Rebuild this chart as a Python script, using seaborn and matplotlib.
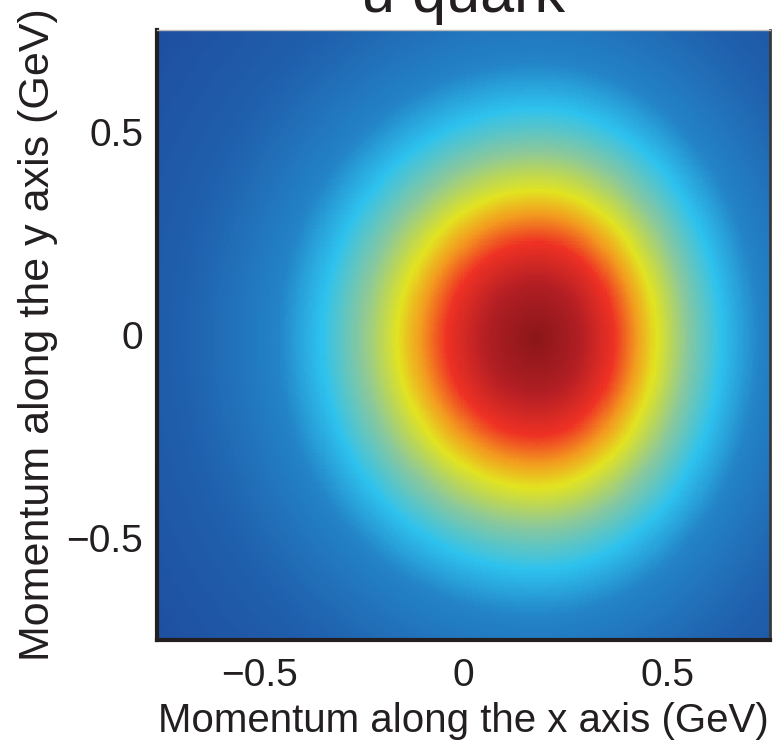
import numpy as np
import pandas as pd
import matplotlib
matplotlib.use("Agg")
import matplotlib.pyplot as plt
from matplotlib.colors import LinearSegmentedColormap
import seaborn as sns

# ---- data ----
title = "u quark"
x_label = "Momentum along the x axis (GeV)"
y_label = "Momentum along the y axis (GeV)"
axis_range = [-0.75, 0.75]
tick_values = [-0.5, 0.0, 0.5]
tick_labels = ["\u22120.5", "0", "0.5"]

# peak position (GeV) and elongation of the distribution (left, right, vertical)
peak_center = [0.18, -0.01]
aspect_left_right_y = [1.10, 0.94, 1.18]
# radial profile (horizontal distance from peak, GeV) -> relative density
profile_radius = [0.0, 0.10, 0.20, 0.26, 0.31, 0.39, 0.48, 0.58, 0.75, 0.95, 1.2]
profile_level = [1.0, 0.92, 0.80, 0.70, 0.60, 0.50, 0.38, 0.28, 0.18, 0.10, 0.0]

# colour stops (level, colour)
cmap_levels = [0.0, 0.15, 0.28, 0.38, 0.5, 0.6, 0.7, 0.8, 0.9, 1.0]
cmap_colors = ["#1E469A", "#1F5DAB", "#2383C6", "#2EC2EE", "#8CC89A",
               "#E2E320", "#F39C1F", "#EE3124", "#B51F24", "#8B1619"]

n_grid = 300

# ---- build grid ----
edges = np.linspace(axis_range[0], axis_range[1], n_grid + 1)
centers = 0.5 * (edges[:-1] + edges[1:])
X, Y = np.meshgrid(centers, centers[::-1])
dx = X - peak_center[0]
ax_scale = np.where(dx < 0, aspect_left_right_y[0], aspect_left_right_y[1])
D = np.sqrt((dx / ax_scale) ** 2 + ((Y - peak_center[1]) / aspect_left_right_y[2]) ** 2)
Z = np.interp(D, profile_radius, profile_level)
df = pd.DataFrame(Z, index=np.round(centers[::-1], 4), columns=np.round(centers, 4))

cmap = LinearSegmentedColormap.from_list("quark", list(zip(cmap_levels, cmap_colors)))

sns.set_style("white")
plt.rcParams["font.family"] = ["Liberation Sans Narrow", "Liberation Sans", "DejaVu Sans"]

fig = plt.figure(figsize=(7.77, 7.48), dpi=100)
ax = fig.add_axes([157 / 777, (748 - 640) / 748, (770 - 157) / 777, (640 - 30) / 748])
sns.heatmap(df, ax=ax, cmap=cmap, vmin=0, vmax=1, cbar=False,
            xticklabels=False, yticklabels=False, rasterized=True)

def to_idx(v, flip=False):
    p = (v - axis_range[0]) / (axis_range[1] - axis_range[0]) * n_grid
    return n_grid - p if flip else p

ax.set_xticks([to_idx(v) for v in tick_values])
ax.set_xticklabels(tick_labels, fontsize=28, color="#231F20")
ax.set_yticks([to_idx(v, flip=True) for v in tick_values])
ax.set_yticklabels(tick_labels, fontsize=28, color="#231F20", rotation=0)
ax.tick_params(axis="both", direction="in", length=11, width=3, color="#231F20",
               pad=10, bottom=True, left=True)
ax.tick_params(axis="x", pad=13)

ax.set_xlabel(x_label, fontsize=29, color="#231F20", labelpad=6)
ax.set_ylabel(y_label, fontsize=31, color="#231F20", labelpad=6)
ax.set_title(title, fontsize=44, color="#231F20", pad=13)

for side in ["left", "bottom"]:
    ax.spines[side].set_visible(True)
    ax.spines[side].set_linewidth(3)
    ax.spines[side].set_color("#231F20")
ax.spines["right"].set_visible(True)
ax.spines["right"].set_linewidth(2)
ax.spines["right"].set_color("#3A3A3A")
ax.spines["top"].set_visible(True)
ax.spines["top"].set_linewidth(1)
ax.spines["top"].set_color("#BBBBBB")

fig.savefig("out.png", dpi=100)
